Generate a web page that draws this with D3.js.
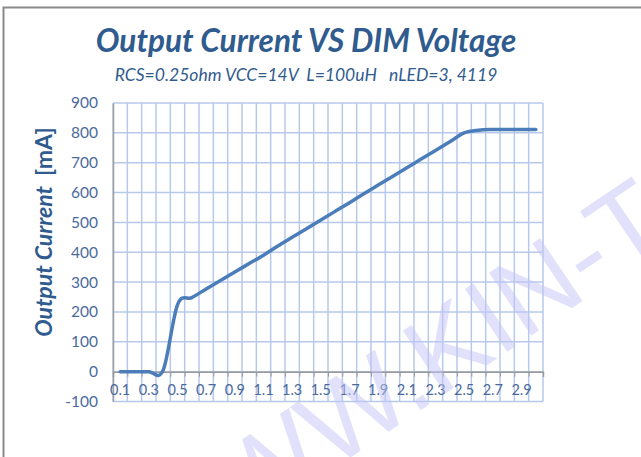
<!DOCTYPE html>
<html>
<head>
<meta charset="utf-8">
<script src="https://cdn.jsdelivr.net/npm/d3@7"></script>
<style>
  body { margin: 0; background: #fff; }
  svg { display: block; }
</style>
</head>
<body>
<svg id="chart-svg"></svg>
<script>
// DIM voltage categories (V) and measured output current (mA)
var dim_voltage = ["0.1","0.2","0.3","0.4","0.5","0.6","0.7","0.8","0.9","1.0",
                   "1.1","1.2","1.3","1.4","1.5","1.6","1.7","1.8","1.9","2.0",
                   "2.1","2.2","2.3","2.4","2.5","2.6","2.7","2.8","2.9","3.0"];
var output_current = [0, 0, 0, 5, 224, 248, 277, 305, 334, 362,
                      390, 421, 450, 479, 508, 537, 566, 596, 625, 654,
                      683, 712, 741, 770, 800, 809, 811, 811, 811, 811];
var x_tick_labels = ["0.1","0.3","0.5","0.7","0.9","1.1","1.3","1.5","1.7","1.9",
                     "2.1","2.3","2.5","2.7","2.9"];
var y_ticks = [-100, 0, 100, 200, 300, 400, 500, 600, 700, 800, 900];

var W = 641, H = 457;
var margin = { top: 103, right: 98, bottom: 55.5, left: 113 },
    width = W - margin.left - margin.right,
    height = H - margin.top - margin.bottom;

var gridColor = "#b7c9ea";
var textColor = "#4a6a9c";
var titleColor = "#2f5b8e";

const root = d3.select("#chart-svg").attr("width", W).attr("height", H);

// outer frame
root.append("rect")
    .attr("x", 3.5).attr("y", 7.5)
    .attr("width", 700).attr("height", 500)
    .attr("fill", "none").attr("stroke", "#8a8a8a").attr("stroke-width", 2);

root.append("text")
    .attr("x", 306).attr("y", 52)
    .attr("text-anchor", "middle")
    .style("font-family", "Lato").style("font-weight", "bold").style("font-style", "italic")
    .style("font-size", "31.5px").attr("fill", titleColor)
    .text("Output Current VS DIM Voltage");

root.append("text")
    .attr("x", 306).attr("y", 81)
    .attr("text-anchor", "middle")
    .style("font-family", "Lato").style("font-style", "italic")
    .style("font-size", "17.5px").attr("fill", titleColor)
    .attr("xml:space", "preserve")
    .text("RCS=0.25ohm VCC=14V  L=100uH   nLED=3, 4119");

const svg = root.append("g")
    .attr("transform", "translate(" + margin.left + "," + margin.top + ")");

var x = d3.scaleBand().domain(dim_voltage).range([0, width]).padding(0);
var xEdge = d3.scaleLinear().domain([0, dim_voltage.length]).range([0, width]);
var y = d3.scaleLinear().domain([-100, 900]).range([height, 0]);

// grid
svg.append("g")
   .selectAll("line.vg")
   .data(d3.range(dim_voltage.length + 1))
   .enter().append("line")
   .attr("x1", function(d) { return xEdge(d); })
   .attr("x2", function(d) { return xEdge(d); })
   .attr("y1", 0).attr("y2", height)
   .attr("stroke", gridColor).attr("stroke-width", 1.5);

svg.append("g")
   .selectAll("line.hg")
   .data(y_ticks)
   .enter().append("line")
   .attr("x1", 0).attr("x2", width)
   .attr("y1", function(d) { return y(d); })
   .attr("y2", function(d) { return y(d); })
   .attr("stroke", gridColor).attr("stroke-width", 1.5);

// left axis
var yAxis = svg.append("g")
   .call(d3.axisLeft(y).tickValues(y_ticks).tickSize(0).tickPadding(15)
           .tickFormat(function(d) { return String(d); }));
yAxis.select(".domain").attr("stroke", "#a0a0a0").attr("stroke-width", 1.5);
yAxis.selectAll("text")
   .style("font-family", "Lato").style("font-size", "15.5px").attr("fill", textColor);

// x axis at zero with ticks on category edges
var xTicks = svg.append("g")
   .attr("transform", "translate(0," + y(0) + ")")
   .call(d3.axisBottom(xEdge).tickValues(d3.range(dim_voltage.length + 1)).tickSize(5).tickFormat(""));
xTicks.selectAll("line").attr("stroke", "#9a9a9a");
xTicks.select(".domain").attr("stroke", "#9a9a9a").attr("stroke-width", 1.5);

var xAxis = svg.append("g")
   .attr("transform", "translate(0," + y(0) + ")")
   .call(d3.axisBottom(x).tickValues(x_tick_labels).tickSize(0).tickPadding(13));
xAxis.select(".domain").remove();
xAxis.selectAll("text")
   .style("font-family", "Lato").style("font-size", "14.5px").attr("fill", textColor);

// y axis title
var yt = root.append("text")
   .attr("transform", "translate(52,232) rotate(-90)")
   .attr("text-anchor", "middle")
   .style("font-family", "Lato").style("font-size", "23px").style("font-weight", "bold")
   .attr("fill", titleColor)
   .attr("xml:space", "preserve");
yt.append("tspan").style("font-style", "italic").text("Output Current  ");
yt.append("tspan").text("[mA]");

// data line
var pts = dim_voltage.map(function(d, i) { return { v: d, c: output_current[i] }; });
svg.append("path")
   .datum(pts)
   .attr("fill", "none")
   .attr("stroke", "#4a7dba")
   .attr("stroke-width", 3.5)
   .attr("stroke-linecap", "round")
   .attr("d", d3.line()
      .curve(d3.curveCardinal.tension(0))
      .x(function(d) { return x(d.v) + x.bandwidth() / 2; })
      .y(function(d) { return y(d.c); }));

// watermark
root.append("text")
   .attr("transform", "translate(418,412) rotate(-34)")
   .attr("x", -312)
   .style("font-family", "Liberation Sans").style("font-size", "110px")
   .attr("fill", "rgb(196,196,248)").attr("fill-opacity", 0.5)
   .text("WWW.KIN-TONE");
</script>
</body>
</html>
